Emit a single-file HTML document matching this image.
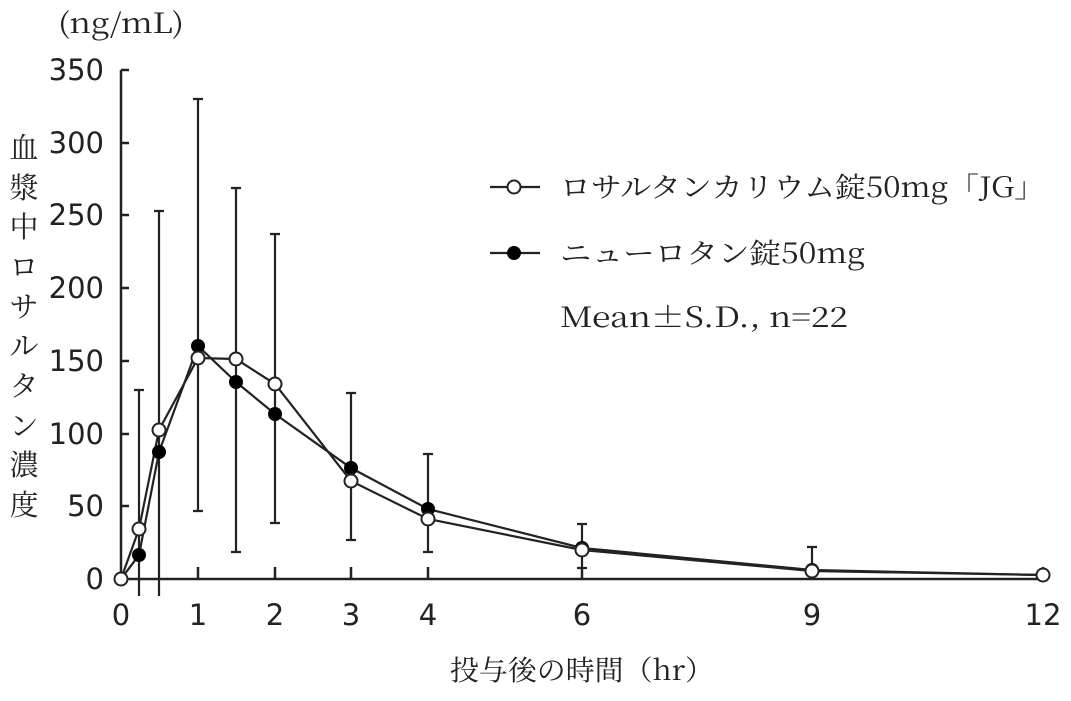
<!DOCTYPE html><html><head><meta charset="utf-8"><style>body{margin:0;background:#fff}svg text{fill:#222}.s{font-family:"DejaVu Sans",sans-serif}.c{font-family:"Noto Serif CJK JP",serif}</style></head><body>
<svg width="1071" height="696" viewBox="0 0 1071 696" xmlns="http://www.w3.org/2000/svg">
<g stroke="#222" stroke-width="2.5" fill="none">
<path d="M121 70V579H1043"/>
<path d="M121 70h8M121 143h8M121 215h8M121 288h8M121 361h8M121 434h8M121 506h8"/>
<path d="M198 579v-12M275 579v-12M351 579v-12M428 579v-12M582 579v-12M812 579v-12M1043 579v-12"/>
</g>
<g stroke="#222" stroke-width="2.2" fill="none">
<path d="M139 390V596M134 390h10M159 211V596M154 211h10M198 99V511M193 99h10M193 511h10M236 188V552M231 188h10M231 552h10M275 234V523M270 234h10M270 523h10M351 393V540M346 393h10M346 540h10M428 454V552M423 454h10M423 552h10M582 524V568M577 524h10M577 568h10M812 547V576M807 547h10"/>
<polyline points="121,579 139,555 159,452 198,346 236,382 275,414 351,468 428,509 582,548 812,570 1043,575"/>
<polyline points="121,579 139,529 159,430 198,358 236,359 275,384 351,481 428,519 582,550 812,571 1043,575"/>
<path d="M490 187h50M490 253h50"/>
</g>
<g fill="#000">
<circle cx="139" cy="555" r="7"/><circle cx="159" cy="452" r="7"/><circle cx="198" cy="346" r="7"/><circle cx="236" cy="382" r="7"/><circle cx="275" cy="414" r="7"/><circle cx="351" cy="468" r="7"/><circle cx="428" cy="509" r="7"/><circle cx="582" cy="548" r="7"/><circle cx="812" cy="570" r="7"/><circle cx="514" cy="253" r="7"/>
</g>
<g fill="#fff" stroke="#222" stroke-width="2">
<circle cx="121" cy="579" r="6.5"/><circle cx="139" cy="529" r="6.5"/><circle cx="159" cy="430" r="6.5"/><circle cx="198" cy="358" r="6.5"/><circle cx="236" cy="359" r="6.5"/><circle cx="275" cy="384" r="6.5"/><circle cx="351" cy="481" r="6.5"/><circle cx="428" cy="519" r="6.5"/><circle cx="582" cy="550" r="6.5"/><circle cx="812" cy="571" r="6.5"/><circle cx="1043" cy="575" r="6.5"/><circle cx="514" cy="187" r="6.5"/>
</g>
<g font-size="29" text-anchor="end">
<text class="s" x="104" y="80">350</text><text class="s" x="104" y="153">300</text><text class="s" x="104" y="225">250</text><text class="s" x="104" y="298">200</text><text class="s" x="104" y="371">150</text><text class="s" x="104" y="444">100</text><text class="s" x="104" y="516">50</text><text class="s" x="104" y="589">0</text>
</g>
<g font-size="29" text-anchor="middle">
<text class="s" x="121" y="625">0</text><text class="s" x="198" y="625">1</text><text class="s" x="275" y="625">2</text><text class="s" x="351" y="625">3</text><text class="s" x="428" y="625">4</text><text class="s" x="582" y="625">6</text><text class="s" x="812" y="625">9</text><text class="s" x="1043" y="625">12</text>
</g>
<text class="c" x="58" y="33" font-size="28" textLength="126" lengthAdjust="spacingAndGlyphs">(ng/mL)</text>
<g font-size="29" text-anchor="middle">
<text class="c" x="24" y="158">血</text><text class="c" x="24" y="198">漿</text><text class="c" x="24" y="237">中</text><text class="c" x="24" y="277">ロ</text><text class="c" x="24" y="317">サ</text><text class="c" x="24" y="356">ル</text><text class="c" x="24" y="396">タ</text><text class="c" x="24" y="436">ン</text><text class="c" x="24" y="475">濃</text><text class="c" x="24" y="515">度</text>
</g>
<text class="c" x="560" y="197" font-size="28" textLength="485" lengthAdjust="spacingAndGlyphs">ロサルタンカリウム錠50mg「JG」</text>
<text class="c" x="560" y="263" font-size="28" textLength="305" lengthAdjust="spacingAndGlyphs">ニューロタン錠50mg</text>
<text class="c" x="560" y="327" font-size="28" textLength="288" lengthAdjust="spacingAndGlyphs">Mean±S.D., n=22</text>
<text class="c" x="582" y="680" font-size="28" text-anchor="middle" textLength="264" lengthAdjust="spacingAndGlyphs">投与後の時間（hr）</text>
</svg></body></html>
